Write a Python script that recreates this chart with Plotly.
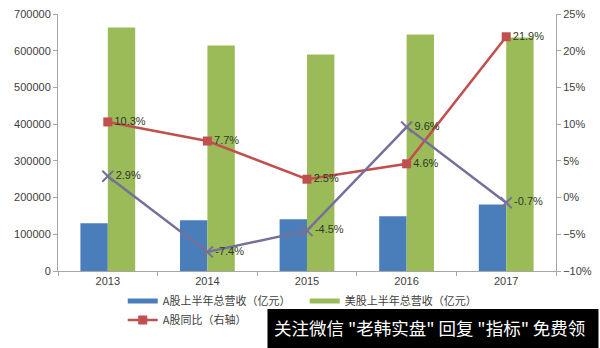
import plotly.graph_objects as go

years = ["2013", "2014", "2015", "2016", "2017"]
a_revenue = [130000, 138000, 141000, 149000, 181000]
us_revenue = [663000, 614000, 590000, 644000, 636000]
a_yoy = [0.103, 0.077, 0.025, 0.046, 0.219]
us_yoy = [0.029, -0.074, -0.045, 0.096, -0.007]

names = ["A股上半年总营收（亿元）", "美股上半年总营收（亿元）", "A股同比（右轴）", "美股同比（右轴）"]
c_blue, c_green, c_red, c_purple = "#4a7ebb", "#9bbb59", "#c0504d", "#75709a"
watermark = '关注微信 "老韩实盘" 回复 "指标" 免费领'

fig = go.Figure()
fig.add_bar(x=years, y=a_revenue, marker_color=c_blue, marker_line_width=0,
            showlegend=False, name=names[0])
fig.add_bar(x=years, y=us_revenue, marker_color=c_green, marker_line_width=0,
            showlegend=False, name=names[1])
# legend swatches (thin rectangles like the original)
fig.add_scatter(x=[None], y=[None], mode="lines", line=dict(color=c_blue, width=5), name=names[0])
fig.add_scatter(x=[None], y=[None], mode="lines", line=dict(color=c_green, width=5), name=names[1])

fig.add_scatter(x=years, y=a_yoy, yaxis="y2", mode="lines+markers+text", name=names[2],
                line=dict(color=c_red, width=2.5),
                marker=dict(symbol="square", size=9, color=c_red),
                text=[f"{v*100:.1f}%" for v in a_yoy], textposition="middle right",
                textfont=dict(size=11, color="#2f3a25", family="Liberation Sans"))
fig.add_scatter(x=years, y=us_yoy, yaxis="y2", mode="lines+markers+text", name=names[3],
                line=dict(color=c_purple, width=2.5),
                marker=dict(symbol="x-thin", size=11, line=dict(color=c_purple, width=2)),
                text=[f"{v*100:.1f}%" for v in us_yoy], textposition="middle right",
                textfont=dict(size=11, color="#2f3a25", family="Liberation Sans"),
                showlegend=False)

axis_common = dict(showgrid=False, zeroline=False, showline=True, linecolor="#a6a6a6",
                   linewidth=1, ticks="outside", ticklen=4, tickcolor="#a6a6a6",
                   tickfont=dict(size=11, color="#404040", family="Liberation Sans"))

fig.update_layout(
    width=600, height=348,
    margin=dict(l=58, r=38, t=8, b=77),
    plot_bgcolor="white", paper_bgcolor="white",
    barmode="group", bargap=0.45, bargroupgap=0,
    xaxis=dict(**axis_common, tickson="boundaries"),
    yaxis=dict(**axis_common, range=[0, 700000], dtick=100000, tickformat="d"),
    yaxis2=dict(**axis_common, overlaying="y", side="right", range=[-0.10, 0.25],
                dtick=0.05, tickformat=".0%"),
    legend=dict(orientation="h", x=0.13, xanchor="left", y=-0.06, yanchor="top",
                entrywidth=137, entrywidthmode="pixels", bgcolor="rgba(0,0,0,0)",
                font=dict(size=11, color="#404040", family="Noto Sans CJK SC"),
                tracegroupgap=0, itemwidth=30),
    showlegend=True,
)

fig.add_shape(type="rect", xref="paper", yref="paper",
              x0=(270 - 58) / 504, x1=(605 - 58) / 504,
              y0=(271 - 310) / 263, y1=(271 - 352) / 263,
              fillcolor="black", line_width=0, layer="above")
fig.add_annotation(xref="paper", yref="paper", x=(275 - 58) / 504, y=(271 - 329) / 263,
                   xanchor="left", yanchor="middle", showarrow=False, text=watermark,
                   font=dict(size=17.5, color="white", family="Noto Sans CJK SC"))

fig.write_html("out.html")
